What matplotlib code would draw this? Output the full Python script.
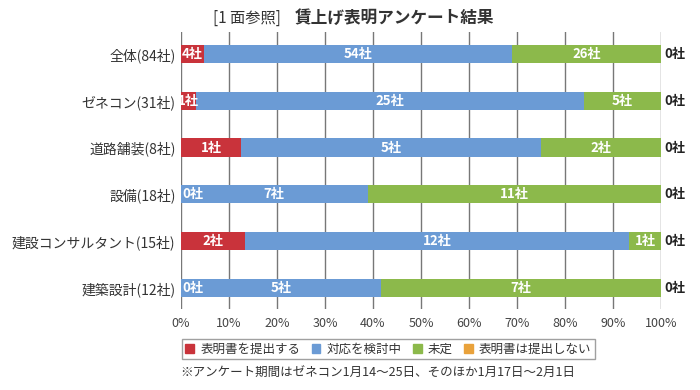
import matplotlib
matplotlib.use('Agg')
import matplotlib.pyplot as plt
import matplotlib.patches as patches
import numpy as np

plt.rcParams['font.family'] = ['Noto Sans CJK JP', 'DejaVu Sans']

# データ
categories = ['全体(84社)', 'ゼネコン(31社)', '道路舗装(8社)', '設備(18社)',
              '建設コンサルタント(15社)', '建築設計(12社)']
submit = [4, 1, 1, 0, 2, 0]
considering = [54, 25, 5, 7, 12, 5]
undecided = [26, 5, 2, 11, 1, 7]
not_submit = [0, 0, 0, 0, 0, 0]
series_names = ['表明書を提出する', '対応を検討中', '未定', '表明書は提出しない']
colors = ['#c9333b', '#6b9bd5', '#8cb94b', '#e9a23b']

data = np.array([submit, considering, undecided, not_submit], dtype=float)
totals = data.sum(axis=0)
pct = data / totals * 100

fig = plt.figure(figsize=(7, 3.9), dpi=100)
ax = fig.add_axes([181/700, 1 - 309/390, 480/700, 277/390])

y = np.arange(len(categories))
left = np.zeros(len(categories))
for k in range(4):
    ax.barh(y, pct[k], left=left, height=0.39, color=colors[k], zorder=3)
    for i in range(len(categories)):
        val = int(data[k][i])
        if k == 3:
            # 最後の系列は棒の外側に黒字で
            ax.text(100.8, y[i], f'{val}社', ha='left', va='center', fontsize=9.5,
                    fontweight='bold', color='#222222', zorder=5)
        elif val == 0:
            ax.text(left[i] + 0.3, y[i], f'{val}社', ha='left', va='center', fontsize=9.5,
                    fontweight='bold', color='white', zorder=5)
        else:
            ax.text(left[i] + pct[k][i] / 2, y[i], f'{val}社', ha='center', va='center',
                    fontsize=9.5, fontweight='bold', color='white', zorder=5)
    left += pct[k]

ax.set_xlim(0, 100)
ax.set_ylim(5.45, -0.47)
ax.set_xticks(np.arange(0, 101, 10))
ax.set_xticklabels([f'{v}%' for v in range(0, 101, 10)], fontsize=9, color='#444444')
ax.set_yticks(y)
ax.set_yticklabels(categories, fontsize=10, color='#333333')
ax.tick_params(axis='both', length=0)
ax.tick_params(axis='x', pad=6)
ax.tick_params(axis='y', pad=4)
ax.grid(True, axis='x', color='#777777', linewidth=1.0, zorder=0)
for s in ax.spines.values():
    s.set_visible(False)

# タイトル
fig.text(213/700, 1 - 18/390, '[1 面参照]', fontsize=11, color='#333333', va='center', ha='left')
fig.text(295/700, 1 - 18/390, '賃上げ表明アンケート結果', fontsize=12, fontweight='bold',
         color='#333333', va='center', ha='left')

# 凡例
handles = [patches.Patch(color=c, label=n) for c, n in zip(colors, series_names)]
leg = fig.legend(handles=handles, loc='center left', bbox_to_anchor=(176/700, 1 - 349/390),
                 ncol=4, fontsize=9, frameon=True, fancybox=False, handlelength=0.7,
                 handleheight=0.7, handletextpad=0.5, columnspacing=0.9,
                 borderpad=0.25, edgecolor='#888888')
for t in leg.get_texts():
    t.set_color('#333333')

fig.text(180/700, 1 - 373/390, '※アンケート期間はゼネコン1月14～25日、そのほか1月17日～2月1日',
         fontsize=9, color='#333333', va='center', ha='left')

plt.savefig('out.png', dpi=100)
